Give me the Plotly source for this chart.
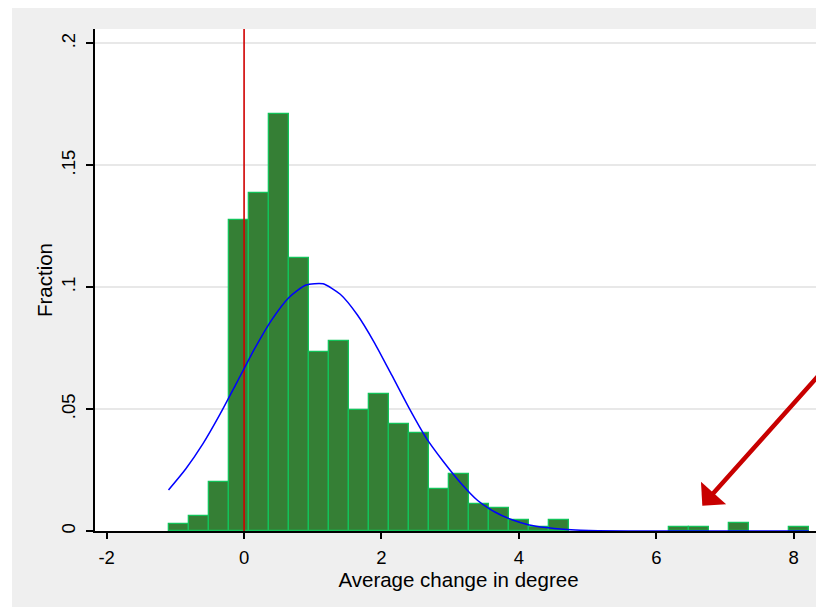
import plotly.graph_objects as go

# ---- data ----
BIN_START = -1.10
BIN_WIDTH = 0.29125
FRACTION = [0.0029, 0.0061, 0.0202, 0.1276, 0.1388, 0.1710, 0.1120, 0.0734,
            0.0780, 0.0497, 0.0560, 0.0437, 0.0404, 0.0173, 0.0234, 0.0110,
            0.0093, 0.0045, 0.0016, 0.0045, 0.0, 0.0, 0.0, 0.0,
            0.0, 0.0016, 0.0016, 0.0, 0.0031, 0.0, 0.0, 0.0016]

CURVE_X = [-1.10, -0.85, -0.60, -0.35, -0.10, 0.15, 0.40, 0.65, 0.90, 1.15,
           1.40, 1.65, 1.90, 2.15, 2.40, 2.65, 2.90, 3.15, 3.40, 3.65,
           3.90, 4.15, 4.40, 4.65, 4.90, 5.15, 6.00, 7.00, 8.22]
CURVE_Y = [0.0168, 0.0254, 0.0357, 0.0479, 0.0612, 0.0746, 0.0865, 0.0957,
           0.1009, 0.1014, 0.0971, 0.0886, 0.0771, 0.0639, 0.0505, 0.0382,
           0.0285, 0.0198, 0.0125, 0.0078, 0.0046, 0.0025, 0.0014, 0.0007,
           0.0003, 0.0001, 0.0, 0.0, 0.0]

XLINE = 0
ARROW_TIP = (6.67, 0.0104)
ARROW_TAIL = (8.70, 0.0745)

X_TICKS = [-2, 0, 2, 4, 6, 8]
X_TICK_LABELS = ["-2", "0", "2", "4", "6", "8"]
Y_TICKS = [0, 0.05, 0.1, 0.15, 0.2]
Y_TICK_LABELS = ["0", ".05", ".1", ".15", ".2"]

X_RANGE = [-2.17, 8.412]
Y_RANGE = [0, 0.2059]

FONT = "Liberation Sans, Arial, sans-serif"

# ---- build figure ----
centers = [BIN_START + (i + 0.5) * BIN_WIDTH for i in range(len(FRACTION))]
bx = [c for c, f in zip(centers, FRACTION) if f > 0]
by = [f for f in FRACTION if f > 0]

fig = go.Figure()

fig.add_trace(go.Scatter(
    x=[XLINE, XLINE], y=[0, Y_RANGE[1]], mode="lines",
    line=dict(color="#d00000", width=1.6), hoverinfo="skip", showlegend=False,
))

fig.add_trace(go.Bar(
    x=bx, y=by, width=BIN_WIDTH,
    marker=dict(color="#357f35", line=dict(color="#12c35a", width=1.3)),
    showlegend=False,
))

fig.add_trace(go.Scatter(
    x=CURVE_X, y=CURVE_Y, mode="lines",
    line=dict(color="#0000ff", width=1.5, shape="spline", smoothing=0.6),
    showlegend=False,
))

fig.add_annotation(
    x=ARROW_TIP[0], y=ARROW_TIP[1], ax=ARROW_TAIL[0], ay=ARROW_TAIL[1],
    xref="x", yref="y", axref="x", ayref="y", text="",
    showarrow=True, arrowhead=1, arrowsize=1.25, arrowwidth=4.5,
    arrowcolor="#c80000", standoff=0,
)

# thin white strip on the left edge of the image
fig.add_shape(type="rect", xref="paper", yref="paper",
              x0=-0.3, x1=-0.1142, y0=-0.3, y1=1.2,
              fillcolor="white", line=dict(width=0), layer="below")

fig.update_layout(
    width=816, height=599,
    margin=dict(l=87, r=2, t=21, b=76),
    paper_bgcolor="#efefef", plot_bgcolor="white",
    font=dict(family=FONT, color="black", size=18.5),
    bargap=0,
    xaxis=dict(
        range=X_RANGE, tickvals=X_TICKS, ticktext=X_TICK_LABELS,
        showgrid=False, zeroline=False,
        showline=True, linecolor="black", linewidth=1.5,
        ticks="outside", ticklen=6, tickwidth=1.5, tickcolor="black",
        tickfont=dict(size=18.5), ticklabelstandoff=3,
        title=dict(text="Average change in degree", font=dict(size=20.5), standoff=2),
    ),
    yaxis=dict(
        range=Y_RANGE, tickvals=Y_TICKS, ticktext=Y_TICK_LABELS,
        showgrid=True, gridcolor="#e8e8e8", gridwidth=1.5, zeroline=False,
        showline=True, linecolor="black", linewidth=1.5,
        ticks="outside", ticklen=7, tickwidth=1.5, tickcolor="black",
        tickangle=-90, tickfont=dict(size=18.5), ticklabelstandoff=4,
        title=dict(text="Fraction", font=dict(size=20.5), standoff=0),
    ),
)

fig.write_html("out.html")
